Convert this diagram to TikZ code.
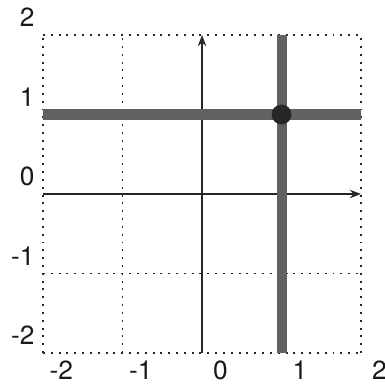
\documentclass[tikz,border=0pt]{standalone}
\usepackage{fontspec}
\setmainfont{TeX Gyre Heros}
\usetikzlibrary{arrows.meta}

\begin{document}
\begin{tikzpicture}[
    gridline/.style={line width=0.7pt, dash pattern=on 0.7pt off 2.1pt, black!85},
    axis/.style={-{Stealth[length=4pt,width=3pt]}, line width=0.8pt, black!85},
    bar/.style={line width=3.6pt, black!62},
    tick/.style={font=\fontsize{9.4}{11}\selectfont, inner sep=0pt, text=black!90},
    dot/.style={circle, fill=black!85, inner sep=0pt, minimum size=0.25cm}
]
\useasboundingbox (-2.541,-2.440) rectangle (2.289,2.440);

% Grid
\foreach \i in {-2,...,2} {
  \draw[gridline] (\i,-2) -- (\i,2);
  \draw[gridline] (-2,\i) -- (2,\i);
}

% Axes
\coordinate (xmin) at (-2,0);
\coordinate (xmax) at (2,0);
\coordinate (ymin) at (0,-2);
\coordinate (ymax) at (0,2);
\draw[axis] (xmin) -- (xmax);
\draw[axis] (ymin) -- (ymax);

% Lines x=1 and y=1
\coordinate (vbot) at (1,-2);
\coordinate (vtop) at (1,2);
\coordinate (hleft) at (-2,1);
\coordinate (hright) at (2,1);
\draw[bar] (vbot) -- (vtop);
\draw[bar] (hleft) -- (hright);
\node[dot] (meet) at (1,1) {};

% Tick labels
\foreach \i in {-2,...,2} {
  \node[tick] (xl\i) at (\i+0.23,-2.22) {\i};
  \node[tick, anchor=east] (yl\i) at (-2.10,\i+0.22) {\i};
}

\end{tikzpicture}
\end{document}
